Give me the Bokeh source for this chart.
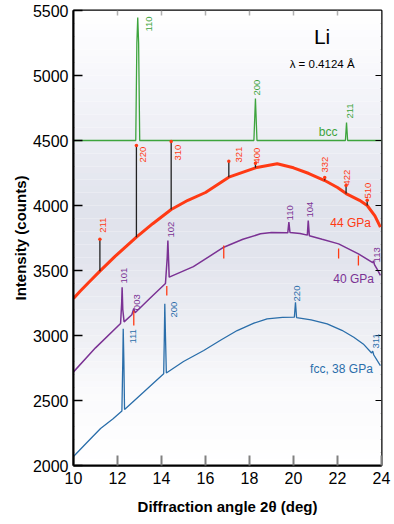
import numpy as np
from bokeh.plotting import figure
from bokeh.models import Range1d, FixedTicker
from bokeh.core.properties import value
from bokeh.embed import file_html
from bokeh.resources import INLINE

# ---------------- data ----------------
x_ticks = [10, 12, 14, 16, 18, 20, 22, 24]
y_ticks = [2000, 2500, 3000, 3500, 4000, 4500, 5000, 5500]

# bcc reference pattern (green)
bcc_x = [10, 12.83, 12.88, 12.92, 12.96, 13.01, 18.20, 18.27, 18.34, 22.36, 22.41, 22.46, 24]
bcc_y = [4500, 4500, 5250, 5446, 5250, 4500, 4500, 4823, 4500, 4500, 4638, 4500, 4500]
bcc_hkl = ["110", "200", "211"]
bcc_lab_x = [13.43, 18.35, 22.57]
bcc_lab_y = [5338, 4846, 4669]

# 44 GPa (red) background curve
red_x = [10, 10.3, 10.7, 11.2, 11.9, 12.86, 13.6, 14.44, 15.2, 16.0, 17.06, 18.27,
         19.26, 20.0, 20.7, 21.42, 22.0, 22.39, 23.0, 23.35, 23.7, 23.95]
red_y = [3285, 3340, 3410, 3495, 3610, 3756, 3860, 3969, 4040, 4100, 4218, 4290,
         4321, 4290, 4246, 4192, 4138, 4092, 4040, 4000, 3920, 3833]
# 44 GPa peaks (black sticks)
red_pk_x = [11.2, 12.86, 14.44, 17.06, 18.27, 21.42, 22.39, 23.35]
red_pk_base = [3495, 3756, 3969, 4218, 4290, 4192, 4092, 4000]
red_pk_top = [3740, 4462, 4492, 4341, 4325, 4215, 4154, 4040]
red_hkl = ["211", "220", "310", "321", "400", "332", "422", "510"]
red_lab_x = [11.35, 13.14, 14.77, 17.5, 18.35, 21.45, 22.44, 23.4]
red_lab_y = [3790, 4331, 4346, 4331, 4323, 4254, 4154, 4054]

# 40 GPa (purple)
pur_x = [10, 11.0, 12.14, 12.19, 12.21, 12.24, 12.3, 12.65, 12.74, 12.8, 13.5, 14.18,
         14.26, 14.29, 14.35, 15.45, 16.83, 17.7, 18.5, 19.0, 19.74, 19.79, 19.84,
         20.3, 20.63, 20.67, 20.72, 21.3, 22.05, 22.95, 23.6, 23.64, 23.68, 23.8, 23.95]
pur_y = [2720, 2905, 3092, 3250, 3371, 3200, 3105, 3160, 3208, 3175, 3290, 3400,
         3600, 3731, 3449, 3530, 3679, 3740, 3782, 3792, 3790, 3872, 3792,
         3785, 3772, 3885, 3768, 3740, 3705, 3628, 3560, 3575, 3545, 3510, 3462]
pur_hkl = ["101", "003", "102", "110", "104", "113"]
pur_lab_x = [12.3, 12.89, 14.41, 19.86, 20.77, 23.8]
pur_lab_y = [3400, 3195, 3754, 3885, 3908, 3562]
# red position markers on the 40 GPa curve
mark_x = [12.74, 14.24, 16.83, 22.05, 22.95]
mark_top = [3190, 3380, 3692, 3669, 3615]
mark_bot = [3077, 3308, 3592, 3592, 3538]

# fcc 38 GPa (blue)
blue_x = [10, 10.6, 11.23, 11.8, 12.2, 12.24, 12.26, 12.29, 12.32, 13.18, 14.1, 14.13,
          14.15, 14.18, 14.22, 15.0, 15.92, 16.7, 17.44, 18.2, 18.8, 19.5, 20.04, 20.09,
          20.14, 20.8, 21.53, 22.2, 22.74, 23.2, 23.55, 23.6, 23.65, 23.95]
blue_y = [2069, 2175, 2285, 2360, 2420, 2800, 3051, 2800, 2430, 2564, 2705, 3000,
          3244, 3000, 2712, 2800, 2885, 2965, 3038, 3095, 3128, 3140, 3141, 3256,
          3138, 3120, 3090, 3040, 2987, 2930, 2865, 2880, 2850, 2769]
blue_hkl = ["111", "200", "220", "311"]
blue_lab_x = [12.69, 14.56, 20.17, 23.73]
blue_lab_y = [2938, 3138, 3262, 2900]

# ---------------- style ----------------
GREEN = "#3da43d"
RED = "#ff3a14"
PURPLE = "#7b3294"
BLUE = "#2a6eaa"
FONT = "Liberation Sans"
X0, X1, Y0, Y1 = 10, 24, 2000, 5500

p = figure(width=394, height=524, output_backend="svg", toolbar_location=None,
           x_range=Range1d(X0, X1), y_range=Range1d(Y0, Y1),
           min_border_left=73, min_border_right=13, min_border_top=10, min_border_bottom=59)
p.background_fill_color = "white"
p.border_fill_color = "white"
p.outline_line_color = "black"
p.outline_line_width = 2
p.grid.visible = False

# background gradient (styling only)
stops_v = [2000, 2600, 3000, 3600, 4000, 4500, 5000, 5500]
stops_c = np.array([[255, 255, 255], [250, 250, 252], [238, 239, 244], [226, 228, 237],
                    [224, 227, 236], [236, 237, 244], [247, 247, 251], [255, 255, 255]])
edges = np.arange(Y0, Y1 + 1, 50)
mids = (edges[:-1] + edges[1:]) / 2
cols = []
for m in mids:
    rgb = [int(round(np.interp(m, stops_v, stops_c[:, k]))) for k in range(3)]
    cols.append("#%02x%02x%02x" % tuple(rgb))
p.quad(left=X0, right=X1, bottom=edges[:-1], top=edges[1:], fill_color=cols, line_color=None)

# curves
p.line(bcc_x, bcc_y, line_color=GREEN, line_width=1.3)
p.line(blue_x, blue_y, line_color=BLUE, line_width=1.3)
p.line(pur_x, pur_y, line_color=PURPLE, line_width=1.5)
p.segment(x0=mark_x, y0=mark_bot, x1=mark_x, y1=mark_top, line_color=RED, line_width=1.3)
p.line(red_x, red_y, line_color=RED, line_width=3)
p.segment(x0=red_pk_x, y0=red_pk_base, x1=red_pk_x, y1=red_pk_top, line_color="#222222", line_width=1.3)
p.scatter(red_pk_x, red_pk_top, size=3.5, color=RED, line_color=None)

# top and right inward ticks (screen-length rays)
p.ray(x=x_ticks[1:-1], y=Y1, length=5, length_units="screen", angle=-np.pi / 2,
      line_color="#b0b0b0", line_width=1.5)
p.ray(x=X1, y=y_ticks[1:-1], length=6, length_units="screen", angle=np.pi,
      line_color="black", line_width=1.2)

# hkl labels
def hkl(xs, ys, labels, color):
    p.text(x=xs, y=ys, text=labels, angle=np.pi / 2, text_align="left", text_baseline="middle",
           text_font=value(FONT), text_font_size="9.5px", text_color=color)

hkl(bcc_lab_x, bcc_lab_y, bcc_hkl, GREEN)
hkl(red_lab_x, red_lab_y, red_hkl, RED)
hkl(pur_lab_x, pur_lab_y, pur_hkl, PURPLE)
hkl(blue_lab_x, blue_lab_y, blue_hkl, BLUE)

def label(x, y, t, color, size):
    p.text(x=[x], y=[y], text=[t], text_align="center", text_baseline="middle",
           text_font=value(FONT), text_font_size=size, text_color=color)

label(21.57, 4562, "bcc", GREEN, "12px")
label(22.6, 3862, "44 GPa", RED, "12px")
label(22.73, 3431, "40 GPa", PURPLE, "12px")
label(22.18, 2746, "fcc, 38 GPa", BLUE, "12px")
label(21.3, 5300, "Li", "black", "21px")
label(21.3, 5092, "λ = 0.4124 Å", "black", "11.5px")

# axes
xa = p.xaxis[0]
xa.ticker = FixedTicker(ticks=x_ticks)
xa.axis_label = "Diffraction angle 2θ (deg)"
ya = p.yaxis[0]
ya.ticker = FixedTicker(ticks=y_ticks)
ya.axis_label = "Intensity (counts)"
for ax in (xa, ya):
    ax.major_label_text_font = FONT
    ax.major_label_text_font_size = "16px"
    ax.major_label_text_color = "black"
    ax.axis_label_text_font = FONT
    ax.axis_label_text_font_size = "15px"
    ax.axis_label_text_font_style = "bold"
    ax.axis_label_text_color = "black"
    ax.axis_line_color = "black"
    ax.axis_line_width = 2
    ax.major_tick_out = 0
    ax.minor_tick_line_color = None
xa.major_tick_in = 10
xa.major_tick_line_color = "#808080"
xa.major_tick_line_width = 2
xa.major_label_standoff = 6
xa.axis_label_standoff = 11
ya.major_tick_in = 9
ya.major_tick_line_color = "black"
ya.major_tick_line_width = 1.5
ya.major_label_standoff = 5
ya.axis_label_standoff = 1

open("out.html", "w").write(file_html(p, INLINE))
